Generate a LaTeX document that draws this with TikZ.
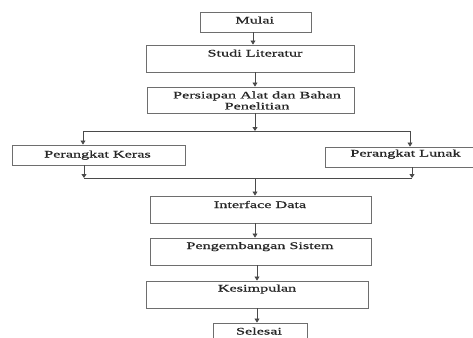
\documentclass[tikz,border=0pt]{standalone}
\usepackage{fontspec}
\newfontfamily\figfont[FakeStretch=1.62,FakeBold=0.9]{Liberation Serif}
\usetikzlibrary{arrows.meta}
\definecolor{boxgray}{HTML}{6E6E6E}
\definecolor{linegray}{HTML}{4A4A4A}
\definecolor{textgray}{HTML}{262626}
\begin{document}
\begin{tikzpicture}[x=1pt,y=-1pt,
  box/.style={draw=boxgray, line width=0.9pt, rectangle, inner sep=0pt},
  txtbase/.style={font=\figfont\fontsize{10}{11}\selectfont, text=textgray, inner sep=0pt, align=center},
  txt/.style={txtbase, text height=7pt, text depth=2pt},
  link/.style={draw=linegray, line width=0.8pt},
  arr/.style={link, -{Triangle[length=4pt,width=5pt]}}]
\useasboundingbox (0,0) rectangle (473,337);
\clip (0,0) rectangle (473,337);
\fill[white] (0,0) rectangle (473,337);
% boxes
\node[box, minimum width=111pt, minimum height=20pt] (mulai) at (255.5,22) {};
\node[box, minimum width=208pt, minimum height=27pt] (studi) at (250,58.5) {};
\node[box, minimum width=207pt, minimum height=26pt] (persiapan) at (250.5,100) {};
\node[box, minimum width=173pt, minimum height=20pt] (keras) at (98.5,155) {};
\node[box, minimum width=153pt, minimum height=20pt] (lunak) at (401.5,157) {};
\node[box, minimum width=221pt, minimum height=27pt] (interface) at (260.5,209.5) {};
\node[box, minimum width=221pt, minimum height=27pt] (peng) at (260.5,251.5) {};
\node[box, minimum width=222pt, minimum height=27pt] (kes) at (257,294.5) {};
\node[box, minimum width=94pt, minimum height=22pt] (sel) at (260,334) {};
% texts
\node[txt] (tmulai) at (254.7,21) {Mulai};
\node[txt] (tstudi) at (255,54) {Studi Literatur};
\node[txtbase] (tpersiapan) at (257,100.5) {Persiapan Alat dan Bahan\\Penelitian};
\node[txt] (tkeras) at (97.5,155) {Perangkat Keras};
\node[txt] (tlunak) at (405.5,154) {Perangkat Lunak};
\node[txt] (tinterface) at (260,205.5) {Interface Data};
\node[txt] (tpeng) at (260,246.5) {Pengembangan Sistem};
\node[txt] (tkes) at (257,289) {Kesimpulan};
\node[txt] (tsel) at (259,332) {Selesai};
% junctions
\coordinate (split) at (255,131);
\coordinate (splitL) at (83,131);
\coordinate (splitR) at (410,131);
\coordinate (merge) at (255,178);
\coordinate (mergeL) at (84,178);
\coordinate (mergeR) at (412,178);
\coordinate (c1) at (253,0);
\coordinate (c2) at (257,0);
% connectors
\draw[arr] (mulai.south -| c1) -- (studi.north -| c1);
\draw[arr] (studi.south -| split) -- (persiapan.north -| split);
\draw[arr] (persiapan.south -| split) -- (split);
\draw[link] (splitL) -- (splitR);
\draw[arr] (splitL) -- (keras.north -| splitL);
\draw[arr] (splitR) -- (lunak.north -| splitR);
\draw[arr] (keras.south -| mergeL) -- (mergeL);
\draw[arr] (lunak.south -| mergeR) -- (mergeR);
\draw[link] (mergeL) -- (mergeR);
\draw[arr] (merge) -- (interface.north -| merge);
\draw[arr] (interface.south -| merge) -- (peng.north -| merge);
\draw[arr] (peng.south -| c2) -- (kes.north -| c2);
\draw[arr] (kes.south -| c2) -- (sel.north -| c2);
\end{tikzpicture}
\end{document}
